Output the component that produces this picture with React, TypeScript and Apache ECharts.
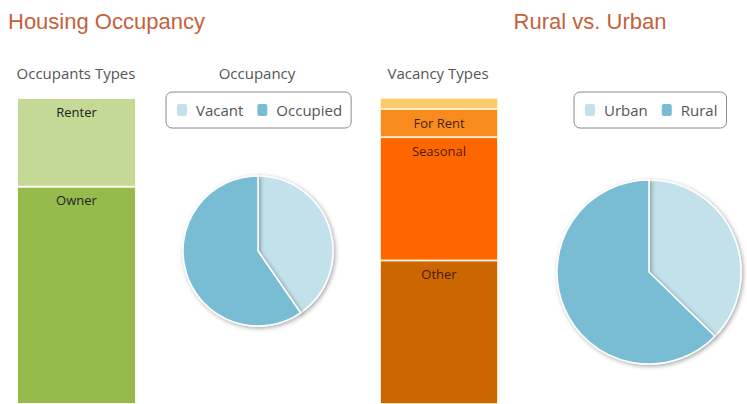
import React, { useEffect, useRef } from "react";
import * as echarts from "echarts";

const occupantCategories = ["Owner", "Renter"];
const occupantValues = [71, 29];
const occupantColors = ["#97bb4a", "#c3d995"];

const vacancyCategories = ["Other", "Seasonal", "For Rent", "For Sale"];
const vacancyValues = [46.9, 40.3, 9.2, 3.6];
const vacancyColors = ["#cc6600", "#ff6600", "#f98a1e", "#fdca6c"];
const vacancyShowLabel = [true, true, true, false];

const occupancyNames = ["Vacant", "Occupied"];
const occupancyValues = [40.4, 59.6];

const areaNames = ["Urban", "Rural"];
const areaValues = [37.3, 62.7];

const pieColors = ["#c2e1ea", "#78bdd3"];

const sum = (a: number[]) => a.reduce((s, v) => s + v, 0);

export default function App() {
  const ref = useRef<HTMLDivElement>(null);
  useEffect(() => {
    if (!ref.current) return;
    const chart = echarts.init(ref.current, undefined, { renderer: "svg" });
    const sansFont = "'Open Sans', sans-serif";
    const titleFont = "'Liberation Sans', Arial, sans-serif";

    const barSeries: any[] = [];
    occupantCategories.forEach((name, i) => {
      barSeries.push({
        type: "bar",
        name,
        stack: "occ",
        xAxisIndex: 0,
        yAxisIndex: 0,
        barWidth: "100%",
        data: [occupantValues[i]],
        itemStyle: { color: occupantColors[i], borderColor: "rgba(255,255,255,0.85)", borderWidth: 1 },
        label: {
          show: true,
          position: "insideTop",
          distance: 7,
          formatter: name,
          fontFamily: sansFont,
          fontSize: 13,
          color: "#222",
        },
        silent: true,
      });
    });
    vacancyCategories.forEach((name, i) => {
      barSeries.push({
        type: "bar",
        name,
        stack: "vac",
        xAxisIndex: 1,
        yAxisIndex: 1,
        barWidth: "100%",
        data: [vacancyValues[i]],
        itemStyle: { color: vacancyColors[i], borderColor: "rgba(255,240,200,0.9)", borderWidth: 1 },
        label: {
          show: vacancyShowLabel[i],
          position: name === "For Rent" ? "inside" : "insideTop",
          distance: 7,
          formatter: name,
          fontFamily: sansFont,
          fontSize: 13,
          color: "rgba(40,10,0,0.85)",
        },
        silent: true,
      });
    });

    const pieItemStyle = {
      borderColor: "#fff",
      borderWidth: 1.5,
      shadowBlur: 4,
      shadowOffsetX: 1.5,
      shadowOffsetY: 1.5,
      shadowColor: "rgba(0,0,0,0.35)",
    };

    const legendCommon = {
      orient: "horizontal",
      borderColor: "#8a8a8a",
      borderWidth: 1,
      borderRadius: 6,
      padding: [10, 9, 10, 9],
      itemWidth: 12,
      itemHeight: 14,
      itemGap: 12,
      icon: "roundRect",
      selectedMode: false,
      textStyle: { fontSize: 15, color: "#555", fontFamily: sansFont, padding: [0, 0, 0, 3] },
    };

    const option: any = {
      animation: false,
      grid: [
        { left: 17, top: 98, width: 119, height: 306 },
        { left: 380, top: 98, width: 118, height: 306 },
      ],
      xAxis: [
        { type: "category", gridIndex: 0, data: ["occupants"], show: false },
        { type: "category", gridIndex: 1, data: ["vacancy"], show: false },
      ],
      yAxis: [
        { type: "value", gridIndex: 0, min: 0, max: sum(occupantValues), show: false },
        { type: "value", gridIndex: 1, min: 0, max: sum(vacancyValues), show: false },
      ],
      legend: [
        { ...legendCommon, data: occupancyNames, left: 166, top: 92 },
        { ...legendCommon, data: areaNames, left: 574, top: 92 },
      ],
      graphic: [
        { type: "text", x: 8, y: 10, style: { text: "Housing Occupancy", fontSize: 22, fontFamily: titleFont, fill: "#c4623a", textAlign: "left", textVerticalAlign: "top" } },
        { type: "text", x: 590, y: 10, style: { text: "Rural vs. Urban", fontSize: 22, fontFamily: titleFont, fill: "#c4623a", textAlign: "center", textVerticalAlign: "top" } },
        { type: "text", x: 76, y: 65, style: { text: "Occupants Types", fontSize: 15, fontFamily: sansFont, fill: "#555", textAlign: "center", textVerticalAlign: "top" } },
        { type: "text", x: 257, y: 65, style: { text: "Occupancy", fontSize: 15, fontFamily: sansFont, fill: "#555", textAlign: "center", textVerticalAlign: "top" } },
        { type: "text", x: 438, y: 65, style: { text: "Vacancy Types", fontSize: 15, fontFamily: sansFont, fill: "#555", textAlign: "center", textVerticalAlign: "top" } },
      ],
      series: [
        ...barSeries,
        {
          type: "pie",
          name: "Occupancy",
          center: [258, 251],
          radius: 75,
          startAngle: 90,
          clockwise: true,
          label: { show: false },
          labelLine: { show: false },
          silent: true,
          itemStyle: pieItemStyle,
          data: occupancyNames.map((n, i) => ({ name: n, value: occupancyValues[i], itemStyle: { color: pieColors[i] } })),
        },
        {
          type: "pie",
          name: "Rural vs. Urban",
          center: [649, 272],
          radius: 92,
          startAngle: 90,
          clockwise: true,
          label: { show: false },
          labelLine: { show: false },
          silent: true,
          itemStyle: pieItemStyle,
          data: areaNames.map((n, i) => ({ name: n, value: areaValues[i], itemStyle: { color: pieColors[i] } })),
        },
      ],
    };
    chart.setOption(option);
    return () => chart.dispose();
  }, []);
  return (
    <div
      ref={ref}
      style={{ position: "absolute", left: 0, top: 0, width: 747, height: 404, background: "#fff" }}
    />
  );
}
